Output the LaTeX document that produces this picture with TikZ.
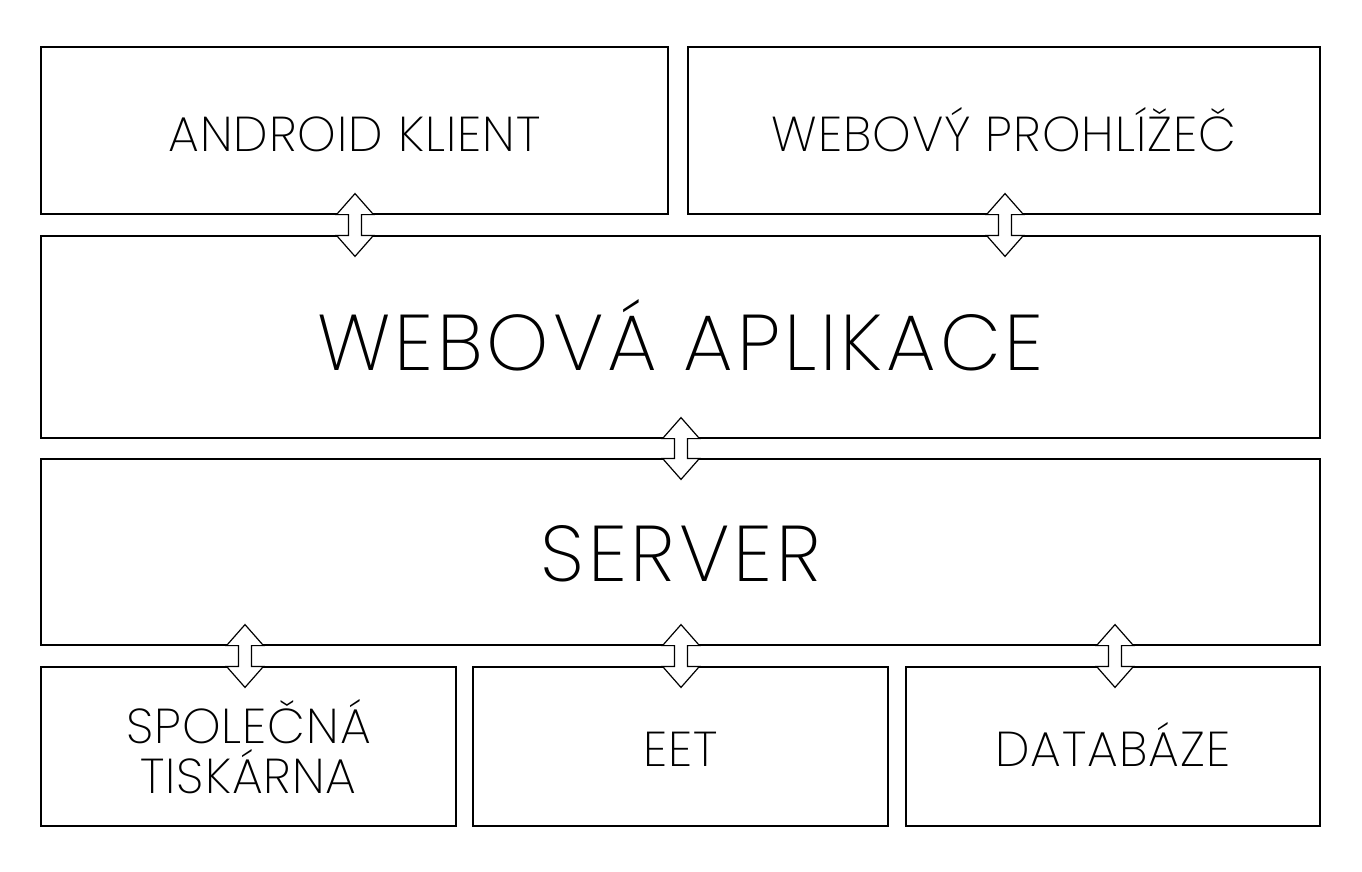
\documentclass[tikz,border=0pt]{standalone}
\usepackage{fontspec}
\IfFontExistsTF{Poppins ExtraLight}{\setmainfont{Poppins ExtraLight}}{%
  \IfFontExistsTF{Poppins Light}{\setmainfont{Poppins Light}}{\setmainfont{Poppins}}}
\usepackage{tikz}
\usetikzlibrary{calc,positioning}

% double block arrow between two box edges
\newcommand{\biarrow}[2]{%
  \draw[biarrow] ($(#1)+(-6.5,0)$) -- ++(-12,0) -- ($(#1)+(0,-21)$)
    -- ($(#1)+(18.5,0)$) -- ++(-12,0) -- ($(#2)+(6.5,0)$) -- ++(12,0)
    -- ($(#2)+(0,21)$) -- ($(#2)+(-18.5,0)$) -- ++(12,0) -- cycle;}

\begin{document}
\begin{tikzpicture}[
  x=1pt, y=-1pt,
  box/.style={draw, line width=1.2pt, inner sep=0pt, minimum width=#1,
              align=center},
  small/.style={font=\fontsize{49}{50}\selectfont\addfontfeatures{LetterSpace=2}},
  big/.style={font=\fontsize{79}{80}\selectfont\addfontfeatures{LetterSpace=5}},
  biarrow/.style={draw, fill=white, line width=1.2pt, line join=miter},
]
  \useasboundingbox (0,0) rectangle (1362,872);

  \node[box=627pt, minimum height=167pt, small, text height=45pt, text depth=4pt]
    (android) at (354.5,130.5) {ANDROID KLIENT};
  \node[box=632pt, minimum height=167pt, small, text height=45pt, text depth=4pt]
    (browser) at (1004,130.5) {WEBOVÝ PROHLÍŽEČ};
  \node[box=1279pt, minimum height=202pt, big, text height=72pt, text depth=6pt]
    (app) at (680.5,337) {WEBOVÁ APLIKACE};
  \node[box=1279pt, minimum height=186pt, big, text height=64pt, text depth=6pt]
    (server) at (680.5,552) {SERVER};
  \node[box=415pt, minimum height=159pt, small] (printer) at (248.5,746.5) {SPOLEČNÁ\\TISKÁRNA};
  \node[box=415pt, minimum height=159pt, small, text height=43pt, text depth=4pt]
    (eet) at (680.5,746.5) {EET};
  \node[box=414pt, minimum height=159pt, small, text height=43pt, text depth=4pt]
    (db) at (1113,746.5) {DATABÁZE};

  % arrow positions
  \coordinate (ax1) at (355,0);
  \coordinate (ax2) at (1005,0);
  \coordinate (ax3) at (681,0);
  \coordinate (ax4) at (245,0);
  \coordinate (ax5) at (1115,0);

  \biarrow{android.south -| ax1}{app.north -| ax1}
  \biarrow{browser.south -| ax2}{app.north -| ax2}
  \biarrow{app.south -| ax3}{server.north -| ax3}
  \biarrow{server.south -| ax4}{printer.north -| ax4}
  \biarrow{server.south -| ax3}{eet.north -| ax3}
  \biarrow{server.south -| ax5}{db.north -| ax5}
\end{tikzpicture}
\end{document}
